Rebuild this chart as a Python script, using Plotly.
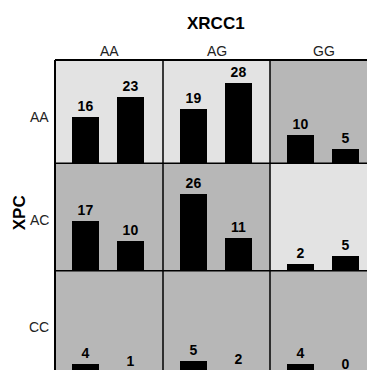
import plotly.graph_objects as go
from plotly.subplots import make_subplots

# ---- data ----
xrcc1_genotypes = ["AA", "AG", "GG"]          # columns
xpc_genotypes = ["AA", "AC", "CC"]            # rows
bar_groups = ["1", "2"]                       # two bars per cell
left_values = [[16, 19, 10],
               [17, 26, 2],
               [4, 5, 4]]
right_values = [[23, 28, 5],
                [10, 11, 5],
                [1, 2, 0]]
light_cells = [(0, 0), (0, 1), (1, 2)]

# ---- layout geometry (page pixels) ----
OFF = 8                          # default body margin of the page
X_LEFT, Y_TOP = 55, 59.5         # page position of the grid's top-left corner
col_w = [108, 107, 107]
row_h = [103.5, 107.5, 104.5]
ML, MT = X_LEFT - OFF, Y_TOP - OFF
W = ML + sum(col_w)              # figure extends slightly past the window (cropped)
H = MT + sum(row_h)
ppu = [2.87, 2.93, 2.9]          # pixels per count unit in each row
unit_px = 45                     # px between bar centres
left_pad = 30.5                  # px from cell edge to first bar centre

FONT = "Liberation Sans, Arial, sans-serif"
LIGHT = "#e3e3e3"
DARK = "#b7b7b7"

fig = make_subplots(rows=3, cols=3, horizontal_spacing=0, vertical_spacing=0,
                    column_widths=col_w, row_heights=row_h)

for r in range(3):
    for c in range(3):
        vals = [left_values[r][c], right_values[r][c]]
        fig.add_trace(go.Bar(
            x=bar_groups, y=vals, width=0.593,
            marker=dict(color="black", line=dict(width=0)),
            texttemplate="<b>%{y}</b>", textposition="outside",
            textfont=dict(family=FONT, size=14, color="black"),
            constraintext="none", cliponaxis=False, showlegend=False,
            hoverinfo="skip"), row=r + 1, col=c + 1)
        x0 = -left_pad / unit_px
        fig.update_xaxes(type="category", range=[x0, x0 + col_w[c] / unit_px],
                         visible=False, row=r + 1, col=c + 1)
        fig.update_yaxes(range=[0, row_h[r] / ppu[r]], visible=False,
                         row=r + 1, col=c + 1)
        fig.add_shape(type="rect", xref="x domain", yref="y domain",
                      x0=0, x1=1, y0=0, y1=1, layer="below",
                      fillcolor=LIGHT if (r, c) in light_cells else DARK,
                      line=dict(width=0), row=r + 1, col=c + 1)

PW = W - ML
PH = H - MT

def px_x(px):
    """page x pixel -> paper coordinate"""
    return (px - OFF - ML) / PW

def px_y(py):
    """page y pixel -> paper coordinate"""
    return (H - (py - OFF)) / PH

# grid lines (page pixels)
vlines = [X_LEFT, X_LEFT + col_w[0], X_LEFT + col_w[0] + col_w[1],
          X_LEFT + sum(col_w)]
hlines = [Y_TOP, Y_TOP + row_h[0], Y_TOP + row_h[0] + row_h[1],
          Y_TOP + sum(row_h)]
for i, vx in enumerate(vlines):
    fig.add_shape(type="line", xref="paper", yref="paper",
                  x0=px_x(vx), x1=px_x(vx), y0=0, y1=1, layer="above",
                  line=dict(color="black", width=2 if i == 0 else 1.5))
for i, hy in enumerate(hlines):
    fig.add_shape(type="line", xref="paper", yref="paper",
                  x0=0, x1=1, y0=px_y(hy), y1=px_y(hy), layer="above",
                  line=dict(color="black", width=2 if i == 0 else 1.5))

# column headers
cx = X_LEFT
for c, g in enumerate(xrcc1_genotypes):
    fig.add_annotation(x=px_x(cx + col_w[c] / 2), y=px_y(50), xref="paper",
                       yref="paper", text=g, showarrow=False, xanchor="center",
                       yanchor="middle",
                       font=dict(family=FONT, size=14, color="#222"))
    cx += col_w[c]

# row headers
row_label_y = [117, 220, 327]
for r, g in enumerate(xpc_genotypes):
    fig.add_annotation(x=px_x(51), y=px_y(row_label_y[r]), xref="paper",
                       yref="paper", text=g, showarrow=False, xanchor="right",
                       yanchor="middle",
                       font=dict(family=FONT, size=14, color="#222"))

fig.add_annotation(x=px_x(216), y=px_y(22.5), xref="paper", yref="paper",
                   text="<b>XRCC1</b>", showarrow=False, xanchor="center",
                   yanchor="middle", font=dict(family=FONT, size=17, color="black"))
fig.add_annotation(x=px_x(19), y=px_y(213), xref="paper", yref="paper",
                   text="<b>XPC</b>", showarrow=False, textangle=-90,
                   xanchor="center", yanchor="middle",
                   font=dict(family=FONT, size=17, color="black"))

fig.update_layout(width=W, height=H,
                  margin=dict(l=ML, r=0, t=MT, b=0, pad=0),
                  paper_bgcolor="white", plot_bgcolor="white",
                  bargap=0, showlegend=False)

fig.write_html("out.html")
